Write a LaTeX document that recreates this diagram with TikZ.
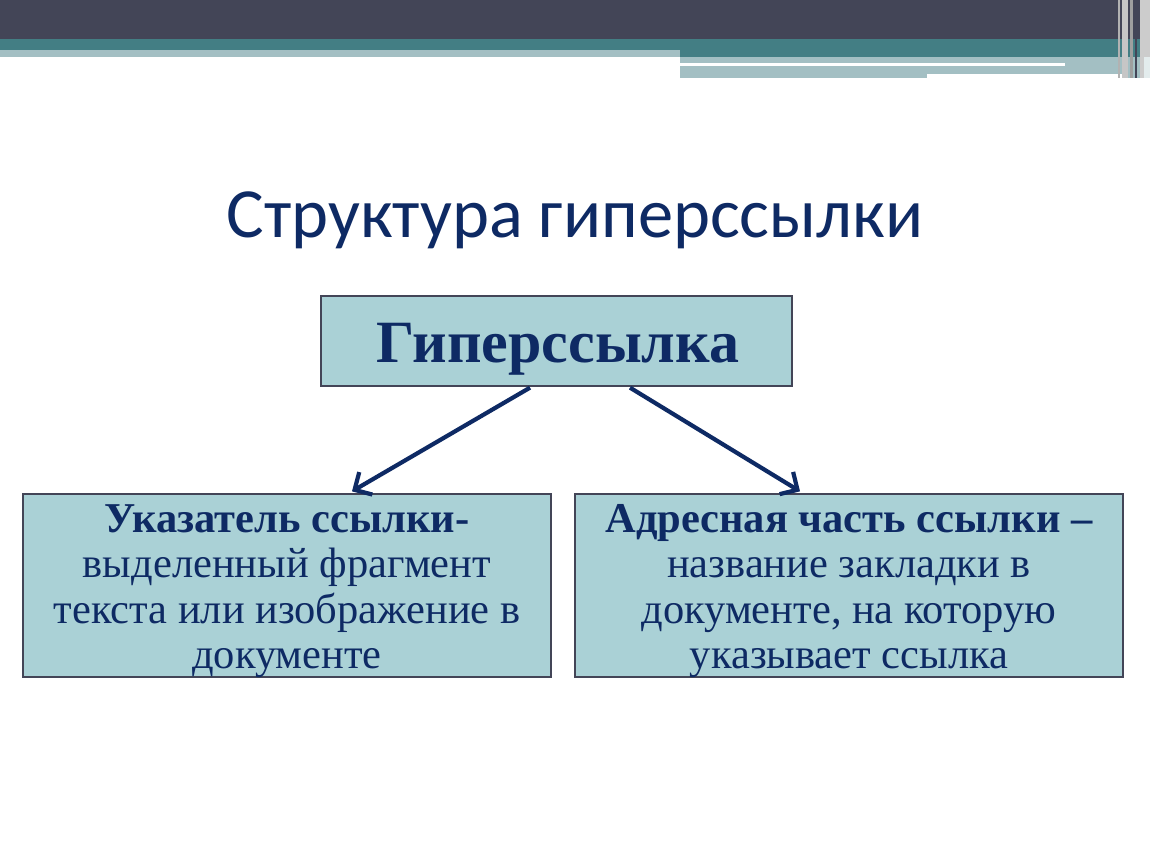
\documentclass[tikz,border=0pt]{standalone}
\usepackage{fontspec}
\setmainfont{Liberation Serif}
\newfontfamily\titlefont{Carlito}
\usetikzlibrary{arrows.meta,calc}
\definecolor{hdark}{HTML}{434557}
\definecolor{hteal}{HTML}{437E84}
\definecolor{hlight}{HTML}{A3BFC3}
\definecolor{boxfill}{HTML}{AAD1D6}
\definecolor{navy}{HTML}{0E2A64}
\tikzset{
  boxnode/.style={draw=hdark, line width=1.3pt, fill=boxfill, inner sep=0pt},
  boxtext/.style={text=navy, align=center, inner sep=0pt, font=\fontsize{42.5}{45.5}\selectfont},
  link/.style={draw=navy, line width=4.2pt, -{Straight Barb[length=13pt,width=26pt,line width=4.2pt]}}
}
\begin{document}
\begin{tikzpicture}[x=1pt,y=-1pt]
\useasboundingbox (0,0) rectangle (1150,864);
\fill[white] (0,0) rectangle (1150,864);
% header
\fill[hdark] (0,0) rectangle (1150,39);
\fill[hteal] (0,39) rectangle (1150,57);
\fill[hlight] (0,50) rectangle (680,57);
\fill[hlight] (680,57) rectangle (1150,78);
\fill[white] (680,63) rectangle (1065,66);
\fill[white] (927,74) rectangle (1128,78);
\fill[gray!60] (1118,0) rectangle (1120,78);
\fill[gray!45] (1122,0) rectangle (1128,78);
\fill[gray!75] (1130,0) rectangle (1133,78);
\fill[hdark] (1135,0) rectangle (1137,78);
\fill[gray!40] (1140,0) rectangle (1150,78);
\fill[white!85!hteal] (1144,57) rectangle (1150,78);
% title
\node[text=navy, font=\titlefont\fontsize{70.5}{78}\selectfont, anchor=base] (title) at (575,237) {Структура гиперссылки};
% boxes
\node[boxnode, minimum width=471pt, minimum height=90pt] (top) at (556.5,341) {};
\node[text=navy, font=\bfseries\fontsize{60}{66}\selectfont, anchor=base] (toptext) at (558,362) {Гиперссылка};
\node[boxnode, minimum width=528pt, minimum height=183pt] (left) at (287,585.5) {};
\node[boxtext, anchor=base] (lefttext) at (287,668.5)
  {\textbf{Указатель ссылки-}\\выделенный фрагмент\\текста или изображение в\\документе};
\node[boxnode, minimum width=548pt, minimum height=183pt] (right) at (849,585.5) {};
\node[boxtext, anchor=base] (righttext) at (849,668.5)
  {\textbf{Адресная часть ссылки –}\\название закладки в\\документе, на которую\\указывает ссылка};
% arrows
\draw[link] ($(top.south)+(-26.5,1)$) -- ($(left.north)+(65,-2)$);
\draw[link] ($(top.south)+(73.5,1)$) -- ($(right.north)+(-49,-2)$);
\end{tikzpicture}
\end{document}
